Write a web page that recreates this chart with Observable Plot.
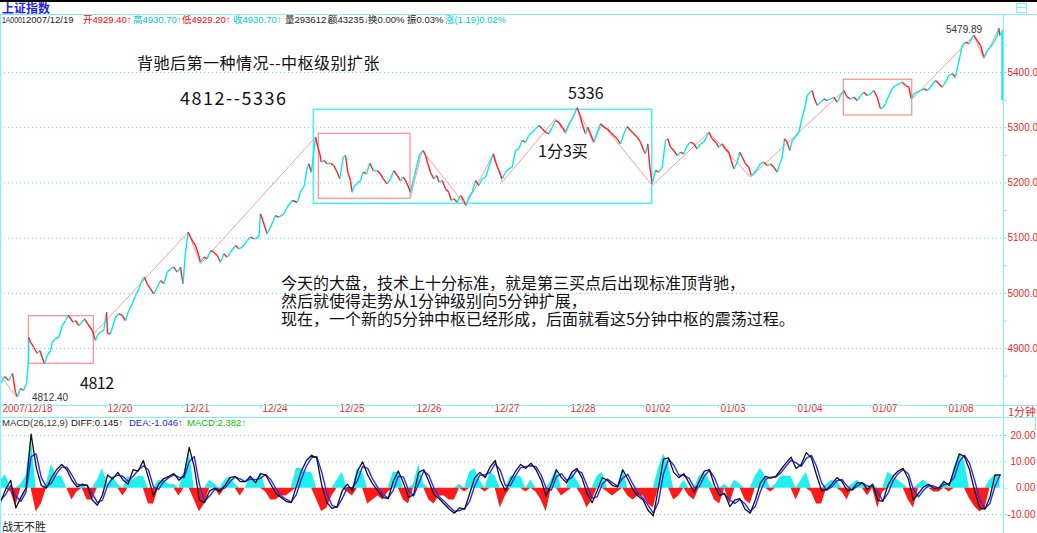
<!DOCTYPE html>
<html><head><meta charset="utf-8">
<script src="https://cdn.jsdelivr.net/npm/d3@7"></script>
<script src="https://cdn.jsdelivr.net/npm/@observablehq/plot@0.6"></script>
<style>
html,body{margin:0;padding:0;background:#fff;}
body{width:1037px;height:533px;overflow:hidden;position:relative;font-family:"Noto Sans CJK SC","Liberation Sans",sans-serif;}
.a{position:absolute;white-space:nowrap;line-height:1;}
.h{font-size:9.5px;top:15px;font-family:"Liberation Sans","Noto Sans CJK SC",sans-serif;}
.ln{position:absolute;background:#80f0ff;}
.note{font-size:16px;color:#111;}
#main,#macd{position:absolute;left:0;}
#main{top:0;} #macd{top:419px;}
</style></head><body>
<div id="main"></div>
<div id="macd"></div>
<script>
// ---------- price series (1-minute close): [trading day index, price]
const d1218 = [[0.634,4836.6],[0.686,4849.2],[0.739,4842.0],[0.791,4854.7],[0.830,4820.3],[0.856,4812.4],[0.895,4827.5],[0.935,4823.9],[0.974,4836.6]];
const d1219 = [[1.000,4878.2],[1.004,4919.9],[1.026,4911.4],[1.069,4902.3],[1.114,4890.9],[1.148,4896.3],[1.179,4884.2],[1.209,4872.2],[1.244,4887.3],[1.288,4896.3],[1.310,4911.4],[1.353,4918.1],[1.396,4920.4],[1.441,4941.6],[1.484,4950.7],[1.519,4959.8],[1.549,4954.3],[1.584,4947.6],[1.614,4950.7],[1.658,4941.6],[1.702,4947.6],[1.732,4953.8],[1.775,4944.7],[1.833,4932.6],[1.876,4914.5],[1.898,4923.5],[1.941,4929.5],[1.984,4932.6]];
const d1220 = [[2.020,4965.7],[2.033,4927.1],[2.072,4926.6],[2.137,4956.7],[2.181,4962.8],[2.225,4959.8],[2.268,4950.7],[2.311,4968.8],[2.356,4980.9],[2.399,4996.0],[2.442,5008.1],[2.486,5023.2],[2.516,5029.1],[2.552,5017.2],[2.595,5008.1],[2.638,4999.1],[2.682,5011.0],[2.726,5023.2],[2.769,5017.2],[2.813,5038.2],[2.856,5044.4],[2.899,5047.3],[2.944,5038.2],[2.987,5047.3]];
const d1221 = [[3.020,5017.2],[3.052,5074.4],[3.088,5110.7],[3.118,5101.6],[3.153,5092.5],[3.183,5086.6],[3.226,5068.4],[3.248,5056.3],[3.291,5065.4],[3.336,5062.5],[3.379,5077.5],[3.422,5074.4],[3.467,5068.4],[3.510,5056.3],[3.553,5071.5],[3.597,5065.4],[3.641,5074.4],[3.706,5086.6],[3.749,5080.6],[3.794,5083.5],[3.859,5095.6],[3.902,5101.6],[3.945,5098.7],[4.011,5101.6]];
const d1224 = [[4.033,5144.0],[4.120,5107.8],[4.164,5119.7],[4.229,5140.9],[4.272,5137.8],[4.337,5144.0],[4.382,5155.9],[4.447,5168.1],[4.512,5165.0],[4.556,5183.1],[4.608,5195.3],[4.634,5222.4],[4.664,5234.6],[4.696,5219.4],[4.722,5246.5],[4.752,5282.8],[4.782,5264.6],[4.808,5252.7],[4.826,5237.5],[4.860,5240.5],[4.905,5234.6],[4.948,5235.7],[4.991,5231.5]];
const d1225 = [[5.035,5219.4],[5.069,5207.4],[5.114,5246.5],[5.144,5249.6],[5.174,5219.4],[5.209,5204.3],[5.231,5183.1],[5.261,5195.3],[5.297,5198.3],[5.340,5204.3],[5.375,5219.4],[5.418,5216.5],[5.462,5235.7],[5.506,5222.4],[5.558,5222.4],[5.601,5216.5],[5.637,5207.4],[5.689,5198.3],[5.732,5207.4],[5.775,5222.4],[5.820,5213.4],[5.863,5204.3],[5.898,5210.3],[5.941,5201.2],[5.994,5183.1]];
const d1226 = [[6.029,5204.3],[6.072,5228.4],[6.115,5252.7],[6.160,5258.7],[6.190,5249.6],[6.220,5234.6],[6.255,5219.4],[6.298,5207.4],[6.334,5213.4],[6.369,5201.2],[6.408,5204.3],[6.451,5189.3],[6.494,5183.1],[6.526,5168.1],[6.560,5171.2],[6.604,5165.0],[6.647,5177.1],[6.690,5168.1],[6.716,5159.0],[6.756,5174.1],[6.800,5183.1],[6.843,5204.3],[6.887,5195.3],[6.931,5207.4],[6.974,5210.3],[7.017,5228.4]];
const d1227 = [[7.075,5252.7],[7.105,5237.5],[7.148,5222.4],[7.192,5207.4],[7.235,5219.4],[7.279,5225.5],[7.323,5228.4],[7.366,5258.7],[7.409,5261.7],[7.454,5276.8],[7.497,5273.7],[7.540,5285.8],[7.585,5291.8],[7.628,5298.0],[7.671,5303.9],[7.716,5298.0],[7.758,5291.8],[7.802,5288.9],[7.846,5300.9],[7.889,5313.0],[7.932,5309.9],[7.977,5300.9],[8.020,5291.8]];
const d1228 = [[8.063,5307.0],[8.107,5316.1],[8.137,5325.2],[8.173,5336.0],[8.207,5322.1],[8.251,5300.9],[8.281,5288.9],[8.311,5300.9],[8.346,5288.9],[8.390,5273.7],[8.434,5291.8],[8.477,5307.0],[8.520,5300.9],[8.565,5298.0],[8.608,5291.8],[8.651,5285.8],[8.696,5279.9],[8.739,5270.8],[8.782,5288.9],[8.826,5302.1],[8.870,5294.9],[8.913,5288.9],[8.957,5282.8],[9.000,5273.7]];
const d0102 = [[9.043,5258.7],[9.065,5252.7],[9.095,5270.8],[9.122,5228.4],[9.153,5198.3],[9.196,5222.4],[9.239,5219.4],[9.284,5228.4],[9.327,5276.8],[9.357,5279.9],[9.392,5264.6],[9.436,5258.7],[9.480,5249.6],[9.523,5255.6],[9.566,5252.7],[9.611,5267.7],[9.654,5273.7],[9.697,5270.8],[9.741,5261.7],[9.784,5270.8],[9.827,5273.7],[9.893,5291.8],[9.937,5279.9],[9.981,5273.7]];
const d0103 = [[10.024,5264.6],[10.068,5270.8],[10.111,5261.7],[10.154,5255.6],[10.186,5240.5],[10.220,5225.5],[10.264,5237.5],[10.298,5255.6],[10.330,5246.5],[10.373,5234.6],[10.416,5228.4],[10.447,5213.4],[10.481,5216.5],[10.526,5225.5],[10.569,5234.6],[10.612,5237.5],[10.656,5231.5],[10.700,5234.6],[10.743,5228.4],[10.787,5219.4],[10.821,5234.6],[10.852,5246.5],[10.882,5279.9],[10.918,5273.7],[10.952,5258.7],[10.983,5276.8]];
const d0104 = [[11.026,5282.8],[11.070,5291.8],[11.114,5319.0],[11.144,5334.2],[11.179,5358.3],[11.213,5364.3],[11.245,5367.4],[11.266,5355.2],[11.310,5340.2],[11.353,5346.2],[11.396,5352.3],[11.441,5349.2],[11.484,5352.3],[11.527,5355.2],[11.572,5346.2],[11.615,5358.3],[11.658,5367.4],[11.702,5355.2],[11.745,5352.3],[11.789,5355.2],[11.833,5349.2],[11.876,5358.3],[11.919,5364.3],[11.964,5358.3]];
const d0107 = [[12.007,5361.4],[12.050,5367.4],[12.094,5355.2],[12.137,5334.2],[12.172,5337.1],[12.203,5343.3],[12.246,5358.3],[12.290,5370.4],[12.334,5376.4],[12.377,5379.5],[12.421,5382.4],[12.464,5376.4],[12.508,5373.3],[12.539,5352.3],[12.573,5361.4],[12.617,5364.3],[12.660,5367.4],[12.704,5370.4],[12.748,5367.4],[12.791,5373.3],[12.856,5385.5],[12.900,5379.5],[12.944,5373.3],[12.987,5382.4]];
const d0108 = [[13.030,5394.5],[13.075,5397.6],[13.118,5391.5],[13.148,5412.6],[13.183,5433.8],[13.205,5448.9],[13.249,5454.9],[13.292,5452.0],[13.336,5463.9],[13.357,5467.0],[13.402,5457.9],[13.445,5448.9],[13.488,5427.7],[13.532,5439.8],[13.575,5445.8],[13.619,5454.9],[13.663,5467.0],[13.684,5479.89],[13.697,5467.0],[13.716,5472.4]];
// last (current) bar: [t, low, high]
const lastBar = [[13.727, 5349.2, 5476.0]];

// ---------- "bi" zigzag strokes (pink)
const biA = [[0.634,4851.1],[0.843,4812.4]];
const biB = [[1.854,4926.6],[3.088,5110.7],[3.248,5053.4],[4.752,5282.8]];
const biC = [[5.994,5174.1],[6.147,5258.7],[6.713,5159.0],[7.083,5252.7],[7.192,5201.2],[7.889,5316.1],[8.020,5288.9],[8.173,5336.0],[8.382,5273.7],[8.500,5307.0],[9.153,5195.3],[9.893,5291.8],[10.438,5210.3],[11.658,5367.4]];
const biD = [[12.552,5352.3],[13.357,5467.0],[13.488,5424.8],[13.684,5479.89]];

// ---------- pivot boxes [t1, t2, low, high]
const pinkBoxes = [[1.004,1.854,4872.3,4958.5],[4.795,5.994,5171.2,5289.0],[11.658,12.552,5322.1,5386.8]];
const cyanBoxes = [[4.730,9.153,5162.1,5332.4]];

// ---------- axes
const priceTicks = [4900,5000,5100,5200,5300,5400];
const priceMinor = [4850,4900,4950,5000,5050,5100,5150,5200,5250,5300,5350,5400,5450];
const dayTickT = [0.634,2.007,3.013,4.033,5.039,6.046,7.065,8.059,9.039,10.020,11.026,12.007,13.000];
const dayLabels = ["2007/12/18","12/20","12/21","12/24","12/25","12/26","12/27","12/28","01/02","01/03","01/04","01/07","01/08"];

// annotation leader lines [t,price]
const pointerLine = [[8.203,5153.6],[8.438,5010.5]];
const highLeader = [[13.47,5477],[13.66,5477],[13.684,5479.89]];
const lowLeader = [[0.856,4812.4],[1.026,4810.5]];

// ---------- MACD(26,12,9), sampled every 1/15 trading day from t=0.634
const macdT0 = 0.634, macdStep = 1/15;
const diff = [-5.3,-0.5,3,-7.5,-3.5,0,20.5,8,1,0,
 4,7,9,7,3,0.5,1.5,1,-4.5,-6.5,
 -2.5,5,3.5,6,3.2,1.5,7,6.5,10.5,4,
 -3,1.5,3.6,4.5,5.5,3,5,15.5,8,-4.5,
 -5.5,-1,0,-1.2,1,4,4.5,2.5,2.5,4.5,
 2,5.5,5,1.5,-2,-3.5,-5,-5.5,0.5,6.5,
 10.5,12.5,11.5,1,-5.5,-7.7,-7,-1,1.5,-1,
 6.5,10,5,1.5,-1,-3.5,-4,2.5,6.5,2,
 -3.5,-2.5,6,7,2.5,-2.5,-4,-6,-8,-9.5,
 -7.5,-8,-2,4,6,4,8,10.5,3,-1,
 3,6.5,9,7.5,9.5,7,3,-3,1.5,7,
 4,2,6,7.5,4,-2,-5.5,-1,4,3,
 1,0.5,7,3.5,-0.5,-3,-4.5,-8.5,-10.5,0,
 11,11.5,6,4,5.5,2,-1.5,2.5,6.5,7,
 1,-2.8,-2,-7,-4.5,-4,-8,-9.5,-4.5,2,
 4.5,3.8,4.5,7,9.5,11.8,7.5,9,13.5,11.5,
 5,-1,-0.5,1.5,4,2.5,-1,-0.5,2,2,
 -0.5,1.5,-4.5,-5,1,4.5,6.5,7.5,3.5,-4.5,
 -2,0.5,1.5,0,0,2.5,1,7,13,12,
 7,-1,-7.5,-8,-3.5,5,5];
const dea = [-4.5,-2.5,1,-3,-5,-1.5,12,13,4,0.5,
 2,5.5,8,8,5,1.5,1,1.2,-2,-5.5,
 -4.5,1,4,5,4.5,2.5,4.5,6.8,8.5,7,
 0.5,-0.5,2.5,4,5,4.2,4,10,12,1.5,
 -5,-3,-0.5,-0.6,0,2.5,4.2,3.5,2.5,3.5,
 3.2,3.8,5.2,3.2,-0.2,-2.8,-4.2,-5.3,-2.5,3.5,
 8.5,11.5,12,6,-2,-6.5,-7.3,-4,0.2,0.2,
 2.8,8.3,7.5,3.3,0.2,-2.3,-3.8,-0.8,4.5,4.3,
 -0.8,-3,1.8,6.5,4.8,0,-3.3,-5,-7,-8.8,
 -8.5,-7.8,-5,1,5,5,6,9.3,6.8,1,
 1,4.8,7.8,8.2,8.5,8.2,5,0,-0.8,4.3,
 5.5,3,4,6.8,5.8,1,-3.8,-3.3,1.5,3.5,
 2,0.8,3.8,5.3,1.5,-1.8,-3.8,-6.5,-9.5,-5.3,
 5.5,11,8.8,5,4.8,3.8,0.3,0.5,4.5,6.8,
 4,-0.9,-2.4,-4.5,-5.8,-4.3,-6,-8.8,-7,-1.3,
 3.3,4.2,4.2,5.8,8.3,10.6,9.6,8.3,11.3,12.5,
 8.3,2,-0.8,0.5,2.8,3.3,0.8,-0.8,0.8,2,
 0.8,0.5,-1.5,-4.8,-2,2.8,5.5,7,5.5,-0.5,
 -3.3,-0.8,1,0.8,0,1.3,1.8,4,10,12.5,
 9.5,3,-4.3,-7.8,-5.8,0.8,5];
const hist = [3,5,-1.5,-7,1.5,4.5,20,-9,-6,1.5,
 9,4.5,4.5,0,-4.5,-1.5,1.5,-4.5,-4.5,3,
 7.5,1.5,4.5,1.5,-3,4.5,3,4.5,4.5,-6,
 -6,3,3,1.5,1.5,-3,6,14,-4.5,-9,
 -6,3,1.5,-3,3,4.5,1.5,-3,0,4.5,
 1.5,6,-1.5,-4.5,-4.5,-3,-3,-1.5,7.5,7.5,
 6,6,-4.5,-9,-7.5,-3,3,6,-1.5,-3,
 7.5,6,-6,-4.5,-3,-4.5,-1.5,6,6,-4.5,
 -6,1.5,9,1.5,-4.5,-6,-3,-3,-4.5,-4.5,
 1.5,-1.5,6,7.5,3,-1.5,6,4.5,-7.5,-3,
 4.5,4.5,4.5,-1.5,3,-1.5,-4.5,-9,3,7.5,
 -3,-1.5,6,3,-3,-7.5,-4.5,4.5,6,-1.5,
 -3,-1.5,7.5,-3,-4.5,-3,-3,-6,-7.5,7.5,
 13,9,-4.5,-3,3,-3,-4.5,4.5,6,3,
 -4.5,-6,1.5,-6,3,1.5,-4.5,-6,4.5,7.5,
 4.5,-1.5,1.5,4.5,4.5,4.5,-4.5,3,6,-1.5,
 -6,-6,1.5,3,3,-1.5,-4.5,1.5,3,1.5,
 -3,1.5,-7.5,-1.5,6,4.5,3,1.5,-4.5,-7.5,
 1.5,3,1.5,-1.5,-1.5,3,-1.5,8,13,10,
 -4,-7,-9,-8,3,5,4];
const macdTicks = [20,10,0,-10];

// ---------- build
const CY = "#00eaea", RD = "#ff2020", PK = "#ff9a9a", GRID = "#5fdcec", AXC = "#7feeff", LBL = "#f02828";
const X = {domain:[0.634, 13.745], range:[0, 1003], axis: null, label: null};
const price = [].concat(d1218,d1219,d1220,d1221,d1224,d1225,d1226,d1227,d1228,d0102,d0103,d0104,d0107,d0108);
const segs = d3.pairs(price).map(([a,b]) => ({x1:a[0], y1:a[1], x2:b[0], y2:b[1], c: b[1] >= a[1] ? CY : RD}));
const bis = [biA,biB,biC,biD].flatMap((b,i) => b.map(p => ({t:p[0], v:p[1], g:i})));
const boxRows = (arr, c) => arr.map(b => ({t1:b[0], t2:b[1], lo:b[2], hi:b[3], c}));
const days = dayTickT.map((t,i) => ({t, label: dayLabels[i]}));

const main = Plot.plot({
  width: 1037, height: 419, marginTop: 0, marginLeft: 0, marginRight: 34, marginBottom: 14,
  x: X, y: {domain:[4900,5400], range:[348,72], axis: null, label: null}, color: {type: "identity"},
  style: {background: "transparent", fontFamily: "Liberation Sans, sans-serif", overflow: "visible"},
  marks: [
    Plot.ruleY(priceTicks, {stroke: GRID, strokeDasharray: "1,3"}),
    Plot.rect(boxRows(pinkBoxes, "#ff8c8c"), {x1:"t1", x2:"t2", y1:"lo", y2:"hi", stroke:"c", fill:"none", strokeWidth: 1.2}),
    Plot.rect(boxRows(cyanBoxes, "#55eef0"), {x1:"t1", x2:"t2", y1:"lo", y2:"hi", stroke:"c", fill:"none", strokeWidth: 1.6}),
    Plot.line(bis, {x:"t", y:"v", z:"g", stroke: PK, strokeWidth: 1}),
    Plot.link(segs, {x1:"x1", y1:"y1", x2:"x2", y2:"y2", stroke:"c", strokeWidth: 1.4}),
    Plot.ruleX(lastBar, {x: d => d[0], y1: d => d[1], y2: d => d[2], stroke: CY, strokeWidth: 1.6}),
    Plot.line(pointerLine, {x:0, y:1, stroke:"#222", strokeWidth: 1}),
    Plot.line(highLeader, {x:0, y:1, stroke:"#444", strokeWidth: 1}),
    Plot.line(lowLeader, {x:0, y:1, stroke:"#444", strokeWidth: 1}),
    Plot.axisY({anchor:"right", ticks: priceMinor, tickSize: 3, tickFormat: () => "", stroke: AXC, label: null}),
    Plot.text(priceTicks, {y: d => d, text: d => d.toFixed(1), frameAnchor: "right", dx: 4, textAnchor: "start", fill: LBL, fontSize: 10}),
    Plot.axisX({ticks: dayTickT.slice(1), tickSize: 3, tickFormat: () => "", stroke: AXC, label: null}),
    Plot.text(days, {x: "t", text: "label", frameAnchor: "bottom", dy: 6.5, dx: 2, textAnchor: "start", fill: LBL, fontSize: 10})
  ]
});
document.getElementById("main").appendChild(main);

const macd = diff.map((v,i) => ({t: macdT0 + i*macdStep, diff: v, dea: dea[i], h: hist[i]}));
const sub = Plot.plot({
  width: 1037, height: 114, marginTop: 0, marginLeft: 0, marginRight: 34, marginBottom: 0,
  x: X, y: {domain:[-10,20], range:[95,16], axis: null, label: null},
  style: {background: "transparent", fontFamily: "Liberation Sans, sans-serif", overflow: "visible"},
  marks: [
    Plot.ruleY([20,10,-10], {stroke: GRID, strokeDasharray: "1,3"}),
    Plot.areaY(macd, {x:"t", y: d => Math.max(0, d.h), fill: "#22f0f0"}),
    Plot.areaY(macd, {x:"t", y: d => Math.min(0, d.h), fill: "#ff1a1a"}),
    Plot.line(macd, {x:"t", y:"dea", stroke: "#2a2aff", strokeWidth: 1.4}),
    Plot.line(macd, {x:"t", y:"diff", stroke: "#111", strokeWidth: 1.3}),
    Plot.axisY({anchor:"right", ticks: macdTicks, tickSize: 3, tickFormat: () => "", stroke: AXC, label: null}),
    Plot.text(macdTicks, {y: d => d, text: d => d.toFixed(2), frameAnchor: "right", dx: 32, textAnchor: "end", fill: LBL, fontSize: 10})
  ]
});
document.getElementById("macd").appendChild(sub);
</script>

<!-- frame lines -->
<div class="ln" style="left:0;top:0;width:1037px;height:2px;background:#000"></div>
<div class="ln" style="left:0;top:14px;width:1037px;height:1px;"></div>
<div class="ln" style="left:0;top:14px;width:1px;height:519px;"></div>
<div class="ln" style="left:1003px;top:14px;width:1px;height:519px;"></div>
<div class="ln" style="left:0;top:405px;width:1037px;height:1px;"></div>
<div class="ln" style="left:0;top:417px;width:1037px;height:1px;"></div>
<div class="ln" style="left:1035px;top:417px;width:1px;height:13px;"></div>
<div class="a" style="left:1016px;top:3px;width:9px;height:8px;border:1px solid #7feeff;"></div>
<div class="ln" style="left:1017px;top:7px;width:9px;height:1px;"></div>

<!-- header -->
<div class="a" style="left:2px;top:2px;font-size:12px;font-weight:bold;color:#2424e0;">上证指数</div>
<div class="a h" style="left:2px;color:#222;transform:scaleX(0.72);transform-origin:0 0;">1A0001</div>
<div class="a h" style="left:26px;color:#222">2007/12/19</div>
<div class="a h" style="left:83px;color:#f00">开4929.40↑</div>
<div class="a h" style="left:133px;color:#00caca">高4930.70↑</div>
<div class="a h" style="left:182px;color:#f00">低4929.20↑</div>
<div class="a h" style="left:233px;color:#00caca">收4930.70↑</div>
<div class="a h" style="left:285px;color:#222">量293612↓</div>
<div class="a h" style="left:328px;color:#222">额43235↓</div>
<div class="a h" style="left:368px;color:#222">换0.00%</div>
<div class="a h" style="left:407px;color:#222">振0.03%</div>
<div class="a h" style="left:445px;color:#00caca">涨(1.19)0.02%</div>

<!-- annotations -->
<div class="a note" style="left:137px;top:54px;letter-spacing:0.5px;">背驰后第一种情况--中枢级别扩张</div>
<div class="a note" style="left:180px;top:88px;font-size:18px;letter-spacing:1.5px;">4812--5336</div>
<div class="a note" style="left:568px;top:84px;">5336</div>
<div class="a note" style="left:538px;top:142px;">1分3买</div>
<div class="a note" style="left:80px;top:374px;letter-spacing:-0.5px;">4812</div>
<div class="a note" style="left:281px;top:273px;line-height:18px;">今天的大盘，技术上十分标准，就是第三买点后出现标准顶背驰，<br>然后就使得走势从1分钟级别向5分钟扩展，<br>现在，一个新的5分钟中枢已经形成，后面就看这5分钟中枢的震荡过程。</div>
<div class="a" style="left:946px;top:25px;font-size:10px;color:#333;font-family:'Liberation Sans'">5479.89</div>
<div class="a" style="left:32px;top:393px;font-size:10px;color:#333;font-family:'Liberation Sans'">4812.40</div>
<div class="a" style="left:1008px;top:406px;font-size:11px;color:#f02828;">1分钟</div>

<!-- MACD header -->
<div class="a" style="left:2px;top:418px;font-size:9.5px;color:#333;font-family:'Liberation Sans'">MACD(26,12,9)</div>
<div class="a" style="left:71px;top:418px;font-size:9.5px;color:#111;font-family:'Liberation Sans'">DIFF:0.145↑</div>
<div class="a" style="left:129px;top:418px;font-size:9.5px;color:#2020ff;font-family:'Liberation Sans'">DEA:-1.046↑</div>
<div class="a" style="left:187px;top:418px;font-size:9.5px;color:#00c000;font-family:'Liberation Sans'">MACD:2.382↑</div>
<div class="a" style="left:2px;top:521px;font-size:11px;color:#222;">战无不胜</div>
</body></html>
